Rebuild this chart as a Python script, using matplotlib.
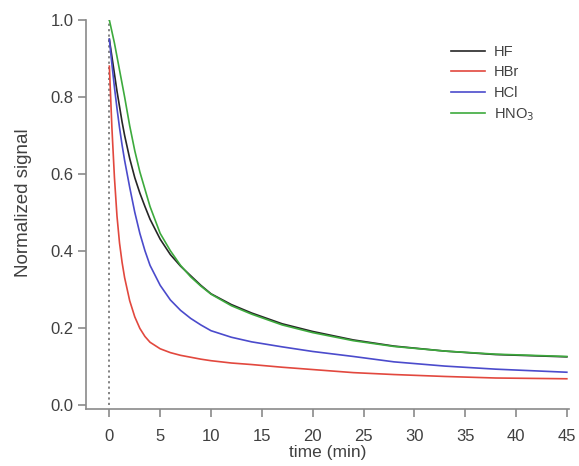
import matplotlib.pyplot as plt

# time grid (min) and normalized signals
time = [0, 0.25, 0.5, 0.75, 1, 1.25, 1.5, 2, 2.5, 3, 3.5, 4, 5, 6, 7, 8, 9,
        10, 12, 14, 17, 20, 24, 28, 33, 38, 45]

hf = [0.95, 0.905, 0.86, 0.815, 0.775, 0.735, 0.70, 0.64, 0.59, 0.55, 0.515, 0.482,
      0.43, 0.39, 0.36, 0.335, 0.31, 0.288, 0.26, 0.238, 0.21, 0.19, 0.168, 0.152,
      0.139, 0.13, 0.124]
hbr = [0.88, 0.72, 0.59, 0.49, 0.42, 0.37, 0.33, 0.27, 0.228, 0.198, 0.177, 0.162,
       0.145, 0.135, 0.128, 0.123, 0.118, 0.114, 0.108, 0.104, 0.097, 0.091, 0.083,
       0.078, 0.073, 0.069, 0.067]
hcl = [0.95, 0.885, 0.825, 0.77, 0.72, 0.675, 0.635, 0.565, 0.50, 0.445, 0.40, 0.362,
       0.31, 0.272, 0.245, 0.224, 0.207, 0.192, 0.175, 0.163, 0.15, 0.138, 0.125,
       0.111, 0.1, 0.092, 0.084]
hno3 = [1.0, 0.97, 0.94, 0.905, 0.87, 0.835, 0.80, 0.725, 0.66, 0.605, 0.56, 0.515,
        0.445, 0.40, 0.362, 0.332, 0.308, 0.287, 0.257, 0.235, 0.207, 0.187, 0.166,
        0.151, 0.139, 0.131, 0.125]

labels = ['HF', 'HBr', 'HCl', 'HNO$_3$']
colors = ['#262626', '#e2483e', '#4b4bcc', '#3daa3d']

plt.rcParams['font.family'] = ['Liberation Sans', 'DejaVu Sans']
grey = '#8a8a8a'
txt = '#404040'

fig = plt.figure(figsize=(5.79, 4.66), dpi=100)
ax = fig.add_axes([0.1485, 0.122, 0.834, 0.835])

ax.plot([0, 0], [0, 1.0], linestyle=(0, (1.2, 1.8)), color='#7a7a7a', lw=1.3)
for ys, lab, c in zip([hf, hbr, hcl, hno3], labels, colors):
    ax.plot(time, ys, color=c, lw=1.2, label=lab)

ax.set_xlim(-2.3, 45.2)
ax.set_ylim(-0.012, 1.0)
ax.set_xticks(range(0, 46, 5))
ax.set_yticks([0.0, 0.2, 0.4, 0.6, 0.8, 1.0])
ax.set_yticklabels(['0.0', '0.2', '0.4', '0.6', '0.8', '1.0'])

for s in ['top', 'right']:
    ax.spines[s].set_visible(False)
for s in ['left', 'bottom']:
    ax.spines[s].set_color(grey)
    ax.spines[s].set_linewidth(1.2)
ax.tick_params(direction='out', length=6, width=1.2, color=grey,
               labelsize=12, labelcolor=txt)
ax.tick_params(axis='x', pad=8)
ax.tick_params(axis='y', pad=3)

ax.set_xlabel('time (min)', fontsize=12.5, color=txt, labelpad=1)
ax.set_ylabel('Normalized signal', fontsize=13.5, color=txt)
ax.yaxis.set_label_coords(-0.112, 0.53)

leg = ax.legend(loc='upper right', bbox_to_anchor=(0.955, 0.97), frameon=False,
                fontsize=10.5, handlelength=2.3, handletextpad=0.6, labelspacing=0.45)
for t in leg.get_texts():
    t.set_color(txt)

fig.savefig('out.png', dpi=100)
